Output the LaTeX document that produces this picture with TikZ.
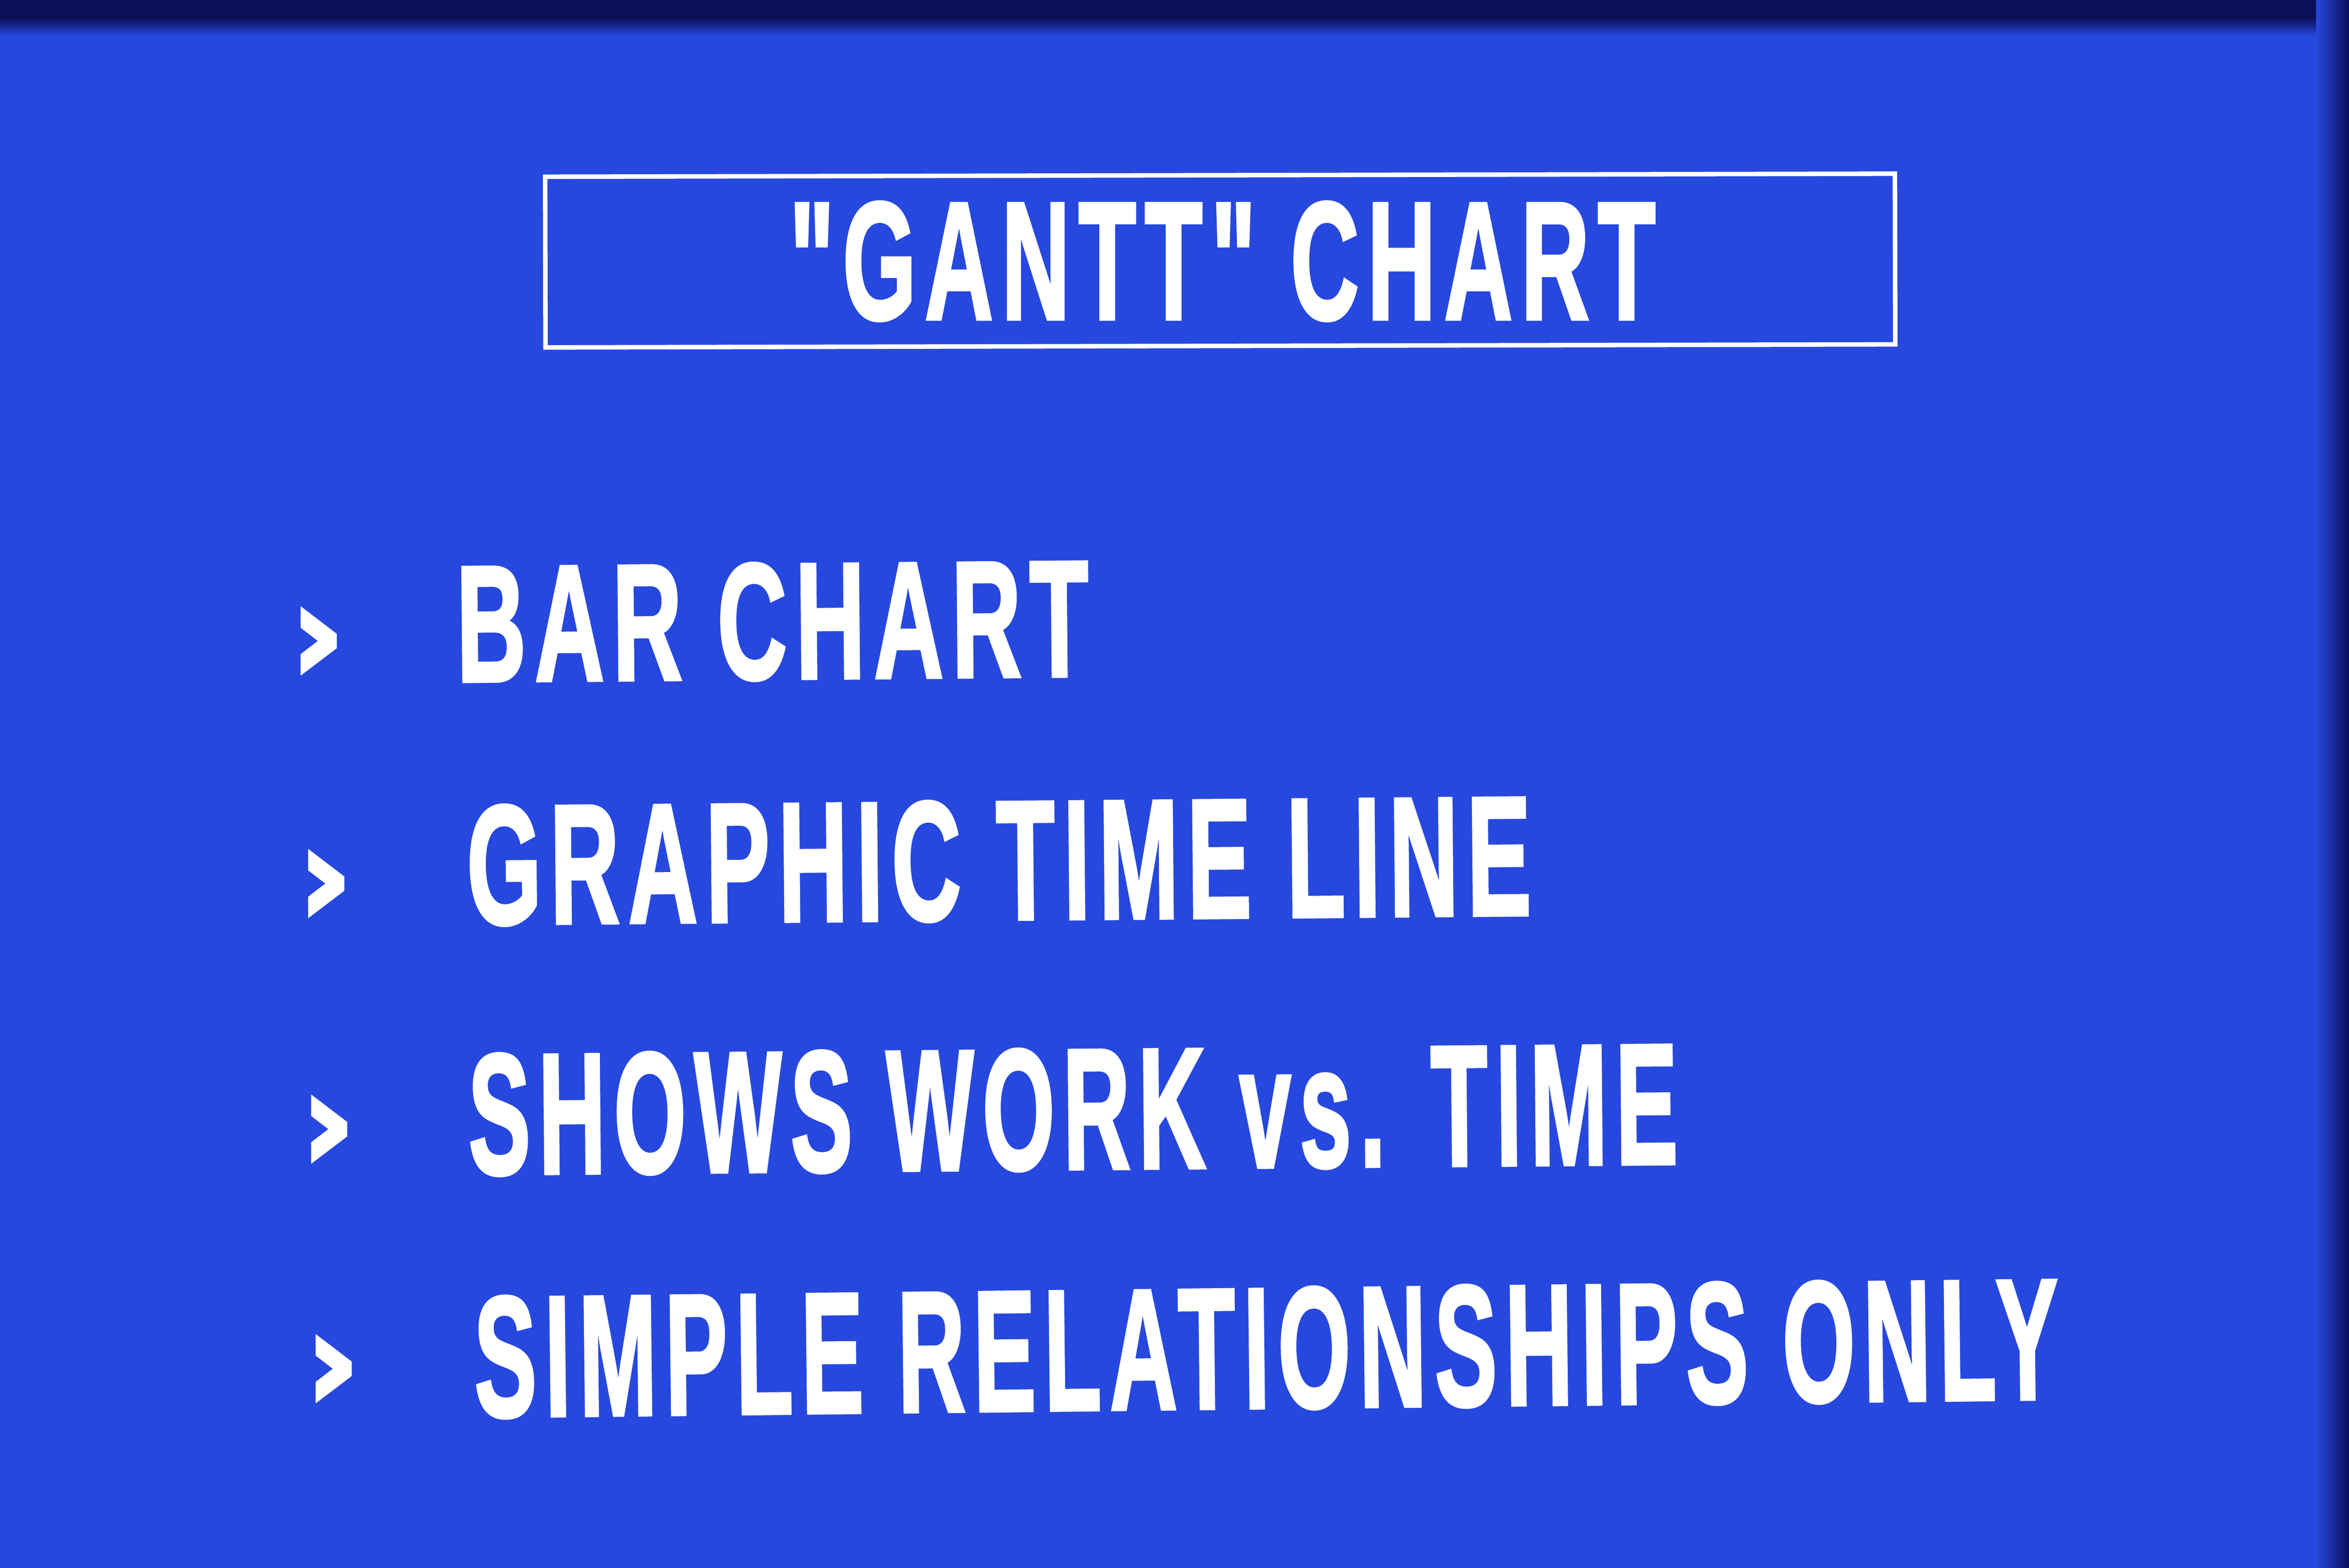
\documentclass[tikz,border=0pt]{standalone}
\usepackage{fontspec}
\usepackage{graphicx}
\newfontfamily\slidefont{Liberation Sans Bold}[FakeBold=2.2, LetterSpace=9]
\newfontfamily\chevfont{DejaVu Sans Bold}[FakeBold=3.5]
\definecolor{slideblue}{HTML}{2748DE}
\definecolor{edgenavy}{HTML}{0A0F5A}
\newcommand\fittext[3]{\resizebox{#1pt}{#2pt}{\slidefont #3}}
\newcommand\chevron{\resizebox*{36pt}{46pt}{\chevfont ›}}
\tikzset{
  txt/.style={text=white, inner sep=0pt, outer sep=0pt, anchor=base west},
  chev/.style={text=white, inner sep=0pt, outer sep=0pt, anchor=south west},
  tilted/.style={rotate=0.5},
  framebox/.style={draw=white, line width=3pt, inner sep=0pt, minimum width=901pt, minimum height=114pt}
}
\begin{document}
\begin{tikzpicture}[x=1pt,y=-1pt]
\useasboundingbox (0,0) rectangle (1568,1047);
% background
\fill[slideblue] (0,0) rectangle (1568,1047);
\fill[edgenavy] (0,0) rectangle (1568,12);
\shade[top color=edgenavy, bottom color=slideblue] (0,12) rectangle (1568,24);
\shade[left color=slideblue, right color=edgenavy] (1546,0) rectangle (1568,1047);
% title frame and title
\node[framebox, rotate=0.13] (frame) at (814.5,174) {};
\node[txt] (title) at (527,213) {\fittext{578}{78}{"GANTT" CHART}};
% bullets
\node[chev] (b1) at (194,454) {\chevron};
\node[chev] (b2) at (199,616) {\chevron};
\node[chev] (b3) at (201,780) {\chevron};
\node[chev] (b4) at (204,940) {\chevron};
% items
\node[txt, tilted] (l1) at (305,455) {\fittext{422}{77}{BAR CHART}};
\node[txt, tilted] (l2) at (312,617) {\fittext{710}{79}{GRAPHIC TIME LINE}};
\node[txt, tilted] (l3) at (313,784) {\fittext{807}{80}{SHOWS WORK vs. TIME}};
\node[txt, rotate=0.65] (l4) at (317,946) {\fittext{1057}{80}{SIMPLE RELATIONSHIPS ONLY}};
\end{tikzpicture}
\end{document}
